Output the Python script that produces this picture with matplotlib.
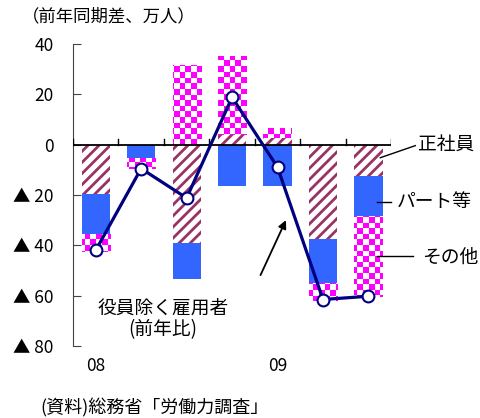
import numpy as np
import matplotlib
matplotlib.use("Agg")
import matplotlib.pyplot as plt
from matplotlib.colors import ListedColormap

plt.rcParams['font.family'] = ['Noto Sans CJK JP', 'DejaVu Sans']
plt.rcParams['hatch.linewidth'] = 2.0

# quarterly data, 2008 Q1 .. 2009 Q3 (前年同期差、万人)
quarters = ['08', '', '', '', '09', '', '']
seishain = [-19.8, 0.0, -39.0, 4.0, 2.8, -37.3, -12.6]
part = [-15.6, -5.2, -14.5, -16.5, -16.5, -17.7, -15.9]
sonota = [-7.3, -4.3, 31.7, 31.0, 3.9, -7.0, -32.1]
koyousha = [-42.0, -9.5, -21.2, 18.8, -9.0, -61.5, -60.2]
yticks = [40, 20, 0, -20, -40, -60, -80]
ylabels = ['40', '20', '0', '▲ 20', '▲ 40', '▲ 60', '▲ 80']

fig = plt.figure(figsize=(4.8, 4.18), dpi=100)
ax = fig.add_axes([0.152, 0.172, 0.663, 0.723])

x = np.arange(len(quarters)) + 0.5
w = 0.62
pos = np.zeros(len(x))
neg = np.zeros(len(x))


def stack(vals):
    vals = np.array(vals)
    bottom = np.where(vals >= 0, pos, neg)
    np.add(pos, np.where(vals >= 0, vals, 0), out=pos)
    np.add(neg, np.where(vals < 0, vals, 0), out=neg)
    return bottom


b = stack(seishain)
ax.bar(x, seishain, w, bottom=b, facecolor='white', edgecolor='#993366',
       hatch='///', linewidth=0, zorder=2)
b = stack(part)
ax.bar(x, part, w, bottom=b, color='#3366FF', linewidth=0, zorder=2)
b = stack(sonota)
pink = ax.bar(x, sonota, w, bottom=b, facecolor='none', linewidth=0, zorder=2)

# checkerboard fill for その他
nx, ny = 57, 54
checker = (np.add.outer(np.arange(ny), np.arange(nx)) % 2)
cmap = ListedColormap(['white', '#FF00FF'])
for patch in pink.patches:
    im = ax.imshow(checker, cmap=cmap, extent=[0, 7, -80, 40], aspect='auto',
                   interpolation='nearest', zorder=2, origin='lower')
    im.set_clip_path(patch)

ax.plot(x, koyousha, color='#000080', lw=2.3, marker='o', ms=8.5,
        mfc='white', mec='#000080', mew=1.5, zorder=4)

ax.set_xlim(0, 7)
ax.set_ylim(-80, 40)
ax.axhline(0, color='black', lw=1.3, zorder=3)
for xi in range(8):
    ax.plot([xi, xi], [0, 2.4], color='black', lw=1, zorder=3)

for s in ['top', 'right', 'bottom']:
    ax.spines[s].set_visible(False)
ax.spines['left'].set_color('#444444')
ax.set_xticks([])
ax.set_yticks(yticks)
ax.set_yticklabels(ylabels, fontsize=12.5)
ax.tick_params(axis='y', direction='in', length=6, pad=14, color='#444444')

for xi, lab in zip(x, quarters):
    ax.text(xi, -88, lab, ha='center', va='center', fontsize=12.5, clip_on=False)

ax.text(1.98, -65, '役員除く雇用者', ha='center', va='center', fontsize=13.5)
ax.text(1.98, -73.4, '(前年比)', ha='center', va='center', fontsize=13.5)
ax.annotate('', xy=(4.71, -29), xytext=(4.1, -52.8),
            arrowprops=dict(arrowstyle='-|>', color='black', lw=1.3,
                            mutation_scale=12))

# series labels at the right
ax.plot([6.76, 7.53], [-5.2, -0.4], color='black', lw=1, clip_on=False)
ax.text(7.58, 0.2, '正社員', fontsize=13.5, va='center', clip_on=False)
ax.plot([6.69, 7.0], [-22.6, -22.6], color='black', lw=1, clip_on=False)
ax.text(7.12, -22.6, 'パート等', fontsize=13.5, va='center', clip_on=False)
ax.plot([6.69, 7.48], [-44.4, -44.4], color='black', lw=1, clip_on=False)
ax.text(7.68, -44.6, 'その他', fontsize=13.5, va='center', clip_on=False)

fig.text(0.045, 0.962, '（前年同期差、万人）', fontsize=12.5, va='center')
fig.text(0.085, 0.024, '(資料)総務省「労働力調査」', fontsize=13, va='center')

fig.savefig('out.png', dpi=100)
